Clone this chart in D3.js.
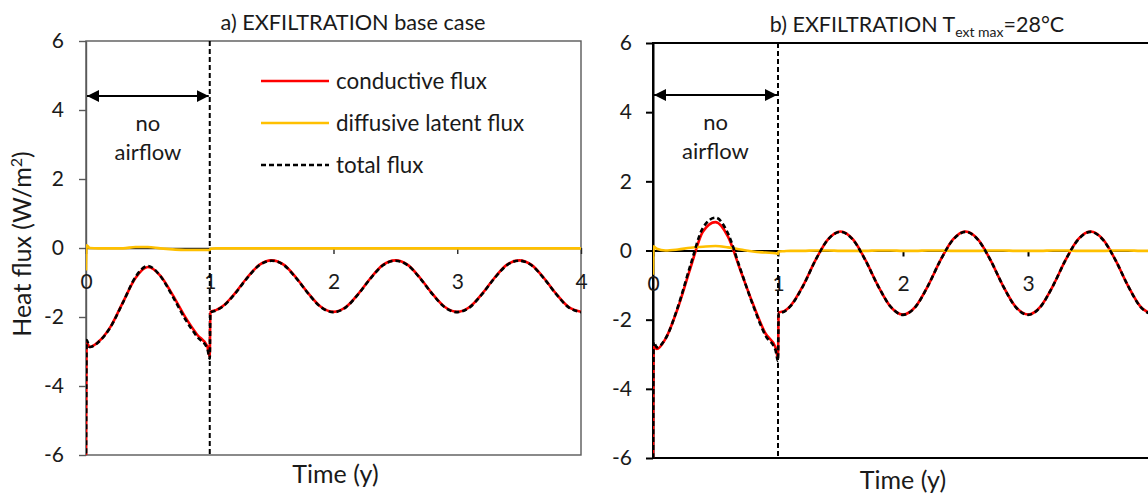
<!DOCTYPE html>
<html>
<head>
<meta charset="utf-8">
<script src="https://cdn.jsdelivr.net/npm/d3@7"></script>
<style>
  body { margin: 0; background: #fff; }
  svg { display: block; }
  text { font-family: Lato, "Open Sans", sans-serif; fill: #1a1a1a; }
</style>
</head>
<body>
<svg id="chart" width="1148" height="496"></svg>
<script>
// Simulation time (years)
const years = [0, 0.005, 0.03, 0.1, 0.2, 0.3, 0.4, 0.5, 0.6, 0.7, 0.8, 0.9, 0.98, 1.0, 1.005, 1.05,
  1.1, 1.2, 1.3, 1.4, 1.5, 1.6, 1.7, 1.8, 1.9, 2.0,
  2.1, 2.2, 2.3, 2.4, 2.5, 2.6, 2.7, 2.8, 2.9, 3.0,
  3.1, 3.2, 3.3, 3.4, 3.5, 3.6, 3.7, 3.8, 3.9, 4.0];

// a) base case (W/m2)
const conductiveBase = [-6, -2.75, -2.87, -2.72, -2.27, -1.56, -0.87, -0.55, -0.8, -1.36, -1.99, -2.52, -2.85, -3.15, -1.85, -1.8,
  -1.7, -1.33, -0.87, -0.49, -0.36, -0.49, -0.87, -1.33, -1.71, -1.85,
  -1.71, -1.33, -0.87, -0.49, -0.36, -0.49, -0.87, -1.33, -1.71, -1.85,
  -1.71, -1.33, -0.87, -0.49, -0.36, -0.49, -0.87, -1.33, -1.71, -1.85];
const latentBase = [-0.65, 0.08, 0.0, -0.01, -0.01, -0.01, 0.03, 0.03, -0.01, -0.04, -0.06, -0.06, -0.06, -0.06, -0.02, -0.01,
  -0.01, -0.01, -0.01, -0.01, -0.01, -0.01, -0.01, -0.01, -0.01, -0.01,
  -0.01, -0.01, -0.01, -0.01, -0.01, -0.01, -0.01, -0.01, -0.01, -0.01,
  -0.01, -0.01, -0.01, -0.01, -0.01, -0.01, -0.01, -0.01, -0.01, -0.01];

// b) maximum outdoor temperature 28 °C (W/m2)
const conductiveHot = [-6, -2.75, -2.85, -2.55, -1.65, -0.5, 0.55, 0.82, 0.4, -0.58, -1.55, -2.4, -2.8, -3.1, -1.8, -1.75,
  -1.6, -1.02, -0.28, 0.32, 0.55, 0.32, -0.28, -1.02, -1.62, -1.85,
  -1.62, -1.02, -0.28, 0.32, 0.55, 0.32, -0.28, -1.02, -1.62, -1.85,
  -1.62, -1.02, -0.28, 0.32, 0.55, 0.32, -0.28, -1.02, -1.62, -1.85];
const latentHot = [-0.7, 0.12, 0.05, 0.0, 0.03, 0.08, 0.11, 0.13, 0.09, 0.03, -0.03, -0.06, -0.08, -0.1, -0.03, -0.02,
  -0.01, -0.01, 0.0, 0.0, -0.01, -0.01, -0.01, 0.0, 0.0, -0.01,
  -0.01, 0.0, 0.0, -0.01, -0.01, -0.01, 0.0, 0.0, -0.01, -0.01,
  -0.01, 0.0, 0.0, -0.01, -0.01, -0.01, 0.0, 0.0, -0.01, -0.01];

const yTicks = [-6, -4, -2, 0, 2, 4, 6];
const xTicks = [0, 1, 2, 3, 4];
const yDomain = [-6, 6];
const xDomain = [0, 4];
const airflowStart = 1;   // ventilation starts after one year
const legendLabels = ["conductive flux", "diffusive latent flux", "total flux"];

const COLORS = { conductive: "#ff0000", latent: "#ffc000", total: "#000000" };
const WIDTH = 1148;
const plainNumber = d => String(d);   // hyphen-minus, as in spreadsheet charts

const svg = d3.select("#chart");

const defs = svg.append("defs");
["arrowEnd", "arrowStart"].forEach((id, i) => {
  defs.append("marker")
    .attr("id", id)
    .attr("viewBox", "0 0 10 10")
    .attr("refX", i === 0 ? 10 : 0).attr("refY", 5)
    .attr("markerWidth", 12).attr("markerHeight", 13)
    .attr("markerUnits", "userSpaceOnUse")
    .attr("orient", "auto")
    .append("path")
    .attr("d", i === 0 ? "M0,0 L10,5 L0,10 Z" : "M10,0 L0,5 L10,10 Z")
    .attr("fill", "#000");
});

function drawPanel(cfg, conductive, latent) {
  const total = conductive.map((v, i) => v + latent[i]);
  const x = d3.scaleLinear().domain(xDomain).range([cfg.left, cfg.right]);
  const y = d3.scaleLinear().domain(yDomain).range([cfg.bottom, cfg.top]);
  const g = svg.append("g");

  const clipId = "clip-" + cfg.id;
  defs.append("clipPath").attr("id", clipId)
    .append("rect")
    .attr("x", cfg.left).attr("y", cfg.top)
    .attr("width", cfg.right - cfg.left).attr("height", cfg.bottom - cfg.top);

  // plot frame
  g.append("rect")
    .attr("x", cfg.left).attr("y", cfg.top)
    .attr("width", cfg.right - cfg.left).attr("height", cfg.bottom - cfg.top)
    .attr("fill", "none").attr("stroke", cfg.frame).attr("stroke-width", cfg.frameWidth);

  // vertical axis
  const yAxis = g.append("g")
    .attr("transform", `translate(${cfg.left},0)`)
    .call(d3.axisLeft(y).tickValues(yTicks).tickSize(7).tickSizeOuter(0).tickPadding(cfg.yPad)
      .tickFormat(plainNumber));
  yAxis.selectAll("path, line").attr("stroke", cfg.frame).attr("stroke-width", cfg.frameWidth);
  yAxis.selectAll("text").attr("font-size", 21).attr("font-family", "Lato, sans-serif").attr("fill", "#1a1a1a");

  // horizontal axis through zero; labels only where they fit on the page
  const visibleTicks = xTicks.filter(t => x(t) + 6 < WIDTH);
  const xAxis = g.append("g")
    .attr("transform", `translate(0,${y(0)})`)
    .call(d3.axisBottom(x).tickValues(visibleTicks).tickSize(6).tickSizeOuter(0).tickPadding(20)
      .tickFormat(plainNumber));
  xAxis.selectAll("path, line").attr("stroke", cfg.axisColor).attr("stroke-width", cfg.frameWidth);
  xAxis.selectAll("text").attr("font-size", 21).attr("font-family", "Lato, sans-serif").attr("fill", "#1a1a1a");

  // start of airflow
  g.append("line")
    .attr("x1", x(airflowStart)).attr("x2", x(airflowStart))
    .attr("y1", y(yDomain[1])).attr("y2", y(yDomain[0]))
    .attr("stroke", "#000").attr("stroke-width", 2).attr("stroke-dasharray", "5,3");

  const line = (vals) => d3.line()
    .x((d, i) => x(years[i]))
    .y(d => y(d))
    .curve(d3.curveMonotoneX)(vals);

  const curves = g.append("g").attr("clip-path", `url(#${clipId})`);
  curves.append("path").attr("d", line(conductive))
    .attr("fill", "none").attr("stroke", COLORS.conductive).attr("stroke-width", 2.6);
  curves.append("path").attr("d", line(latent))
    .attr("fill", "none").attr("stroke", COLORS.latent).attr("stroke-width", 2.6);
  curves.append("path").attr("d", line(total))
    .attr("fill", "none").attr("stroke", COLORS.total).attr("stroke-width", 2.6)
    .attr("stroke-dasharray", "5,3");

  // "no airflow" period annotation
  g.append("line")
    .attr("x1", x(0) + 1).attr("x2", x(airflowStart) - 1)
    .attr("y1", cfg.arrowY).attr("y2", cfg.arrowY)
    .attr("stroke", "#000").attr("stroke-width", 2)
    .attr("marker-start", "url(#arrowStart)")
    .attr("marker-end", "url(#arrowEnd)");
  const noteX = (x(0) + x(airflowStart)) / 2;
  g.append("text").attr("x", noteX).attr("y", cfg.arrowY + 35)
    .attr("text-anchor", "middle").attr("font-size", 22).text("no");
  g.append("text").attr("x", noteX).attr("y", cfg.arrowY + 64)
    .attr("text-anchor", "middle").attr("font-size", 22).text("airflow");

  // axis title
  g.append("text").attr("x", (cfg.left + cfg.right) / 2 + cfg.xTitleShift).attr("y", cfg.xTitleY)
    .attr("text-anchor", "middle").attr("font-size", 25).text("Time (y)");

  return { x, y, g };
}

drawPanel({
  id: "a", left: 86, right: 581, top: 41, bottom: 455,
  frame: "#595959", axisColor: "#262626", frameWidth: 1.4, yPad: 15,
  arrowY: 96, xTitleY: 483, xTitleShift: 2
}, conductiveBase, latentBase);

drawPanel({
  id: "b", left: 653, right: 1153, top: 43, bottom: 458,
  frame: "#000", axisColor: "#000", frameWidth: 2, yPad: 14,
  arrowY: 95, xTitleY: 489, xTitleShift: 0
}, conductiveHot, latentHot);

// titles
svg.append("text").attr("x", 353).attr("y", 30)
  .attr("text-anchor", "middle").attr("font-size", 21.7)
  .text("a) EXFILTRATION base case");

const titleB = svg.append("text").attr("x", 917).attr("y", 32)
  .attr("text-anchor", "middle").attr("font-size", 21.5);
titleB.append("tspan").text("b) EXFILTRATION T");
titleB.append("tspan").attr("font-size", 14).attr("dy", 5).text("ext max");
titleB.append("tspan").attr("dy", -5).text("=28°C");

// shared vertical title
const yTitle = svg.append("text")
  .attr("transform", "translate(31,244) rotate(-90)")
  .attr("text-anchor", "middle").attr("font-size", 25);
yTitle.append("tspan").text("Heat flux (W/m");
yTitle.append("tspan").attr("font-size", 16).attr("dy", -9).text("2");
yTitle.append("tspan").attr("dy", 9).text(")");

// legend (panel a)
const legendColors = [COLORS.conductive, COLORS.latent, COLORS.total];
const legendDash = [null, null, "5,3"];
const legend = svg.append("g").attr("transform", "translate(261,81)");
legendLabels.forEach((label, i) => {
  const row = legend.append("g").attr("transform", `translate(0,${i * 42})`);
  row.append("line").attr("x1", 0).attr("x2", 68).attr("y1", 0).attr("y2", 0)
    .attr("stroke", legendColors[i]).attr("stroke-width", 2.4)
    .attr("stroke-dasharray", legendDash[i]);
  row.append("text").attr("x", 75).attr("y", 0).attr("dy", "0.35em")
    .attr("font-size", 22.4).text(label);
});
</script>
</body>
</html>
